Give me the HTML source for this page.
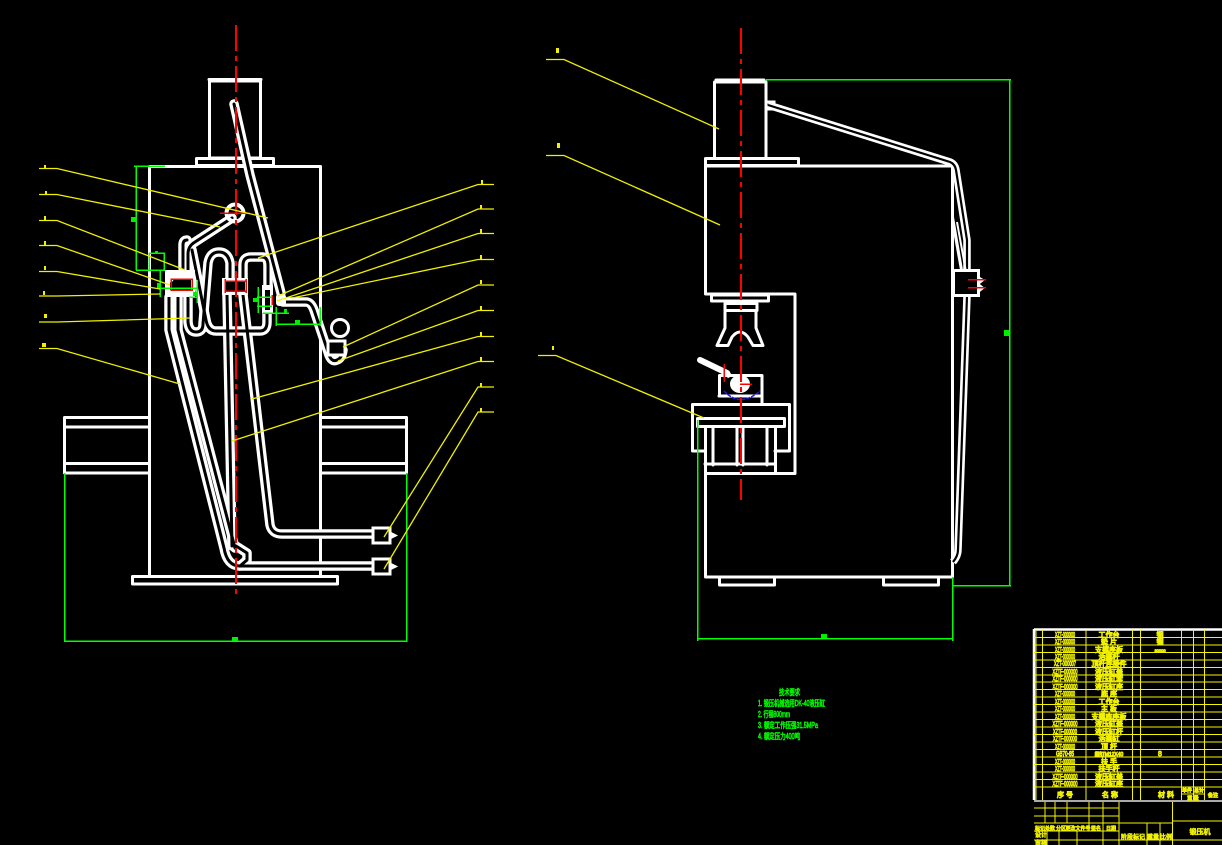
<!DOCTYPE html>
<html><head><meta charset="utf-8"><style>
html,body{margin:0;padding:0;background:#000;width:1222px;height:845px;overflow:hidden}
svg{display:block}
.w{fill:none;stroke:#fff;stroke-width:3;stroke-linejoin:round;stroke-linecap:round}
.to{fill:none;stroke:#fff;stroke-width:9.500;stroke-linejoin:round;stroke-linecap:round}
.ti{fill:none;stroke:#000;stroke-width:3;stroke-linejoin:round;stroke-linecap:round}
.y{fill:none;stroke:#f0f000;stroke-width:1.300}
.g{fill:none;stroke:#00ff00;stroke-width:1.500;shape-rendering:crispEdges}
.gf{fill:#00ee00}
.yf{fill:#f0f000}
.r{fill:none;stroke:#ff0000;stroke-width:1.500;shape-rendering:crispEdges}
.c{fill:none;stroke:#ff0000;stroke-width:2;stroke-dasharray:26 5 5 5;shape-rendering:crispEdges}
.tl{stroke:#f5f500;stroke-width:1.300;fill:none;shape-rendering:crispEdges}
text{font-family:"Liberation Sans","Noto Sans CJK SC",sans-serif}
.t{font-size:7px;fill:#f0f000;stroke:#f0f000;stroke-width:.9;text-anchor:middle}
.s{font-size:6px;fill:#f0f000;stroke:#f0f000;stroke-width:.7;text-anchor:middle}
.n{font-size:8px;fill:#00f000;stroke:#00f000;stroke-width:.7}
</style></head><body>
<svg width="1222" height="845" viewBox="0 0 1222 845" xmlns="http://www.w3.org/2000/svg">
<defs>
<g id="lt">
<path d="M234,104L250,175L281,293"/>
<path d="M232,218L195,242Q188,246 188,254V270"/>
<path d="M183,268V245Q183,240 187,240"/>
<path d="M169,297V330L224,548Q227,566 240,566H373"/>
<path d="M178,297V330L235,548"/>
<path d="M236,546L247,553V560L240,566"/>
<path d="M188,297V322Q189,332 196,332Q203,332 203,324L208,263Q210,252 219,252Q228,252 230,263V278"/>
<path d="M192,250L206,320Q208,331 216,331H260Q267,331 267,322V313"/>
<path d="M243,278V265Q243,257 251,257H262Q268,257 268,266V287"/>
<path d="M227,295L232,546"/>
<path d="M243,295L270,525Q272,534 282,534H373"/>
<path d="M283,302H306Q311,302 314,310L328,352Q331,363 337,360Q342,358 343,350"/>
</g>
<g id="rt"><path d="M768,105L950,162Q955,164 956,170L967,240V296M967,296L958,550Q958,556 953,562"/></g>
</defs>
<!-- LEFT VIEW -->
<g class="w">
<rect x="209.500" y="81" width="51" height="77"/>
<path d="M209,79.500H261"/>
<rect x="196.500" y="158.500" width="77" height="7"/>
<rect x="149.500" y="166.500" width="171" height="410"/>
<rect x="132.500" y="576.500" width="205" height="7.500"/>
<path d="M149,417.500H64.500V473H149M64.500,427H149M64.500,463.500H149"/>
<path d="M321,417.500H406.500V473H321M321,427H406.500M321,463.500H406.500"/>
</g>
<use href="#lt" class="to"/><use href="#lt" class="ti"/>
<g>
<circle cx="235" cy="213" r="8.500" fill="none" stroke="#fff" stroke-width="4"/>
<circle cx="340" cy="328" r="8.500" fill="none" stroke="#fff" stroke-width="3"/>
<rect x="165" y="270" width="30" height="27" fill="#fff"/>
<rect x="170" y="279" width="21" height="11" fill="#000"/>
<circle cx="170" cy="279" r="3.500" fill="#fff"/>
<rect x="222" y="278" width="26" height="17" fill="#fff"/>
<rect x="225" y="282" width="20" height="9" fill="#000"/>
<rect x="262" y="285" width="11" height="28" fill="#fff"/>
<rect x="265" y="290" width="5" height="20" fill="#000"/>
<rect x="276" y="294" width="10" height="12" rx="3" fill="#fff"/>
<rect x="328" y="341" width="17" height="14" fill="#000" stroke="#fff" stroke-width="3"/>
<rect x="373" y="528" width="17" height="15" fill="#000" stroke="#fff" stroke-width="3"/>
<rect x="373" y="559" width="17" height="15" fill="#000" stroke="#fff" stroke-width="3"/>
<path d="M390,532L397,535.500L390,539ZM390,563L397,566.500L390,570Z" fill="#fff" stroke="#fff"/>
</g>
<path class="c" d="M236,25V598"/>
<g class="r">
<path d="M171,279H192V290H171ZM225,281H246M225,291H246M225,279V293M246,279V293M272,295V305M220,213H250"/>
</g>
<!-- left green dims -->
<g class="g">
<path d="M134,166H165M136,166V270M136,270H165M149,253H165M149,253V270M164,253V270"/>
<path d="M160,270V297M158,288H197M189,297H198M197,280V303"/>
<path d="M258,287V313M257,297H272M257,306H272M263,313H289M276,307V326M276,324H320M320,307V326"/>
<path d="M64.500,473V642M406.500,473V642M64.500,641H406.500"/>
</g>
<g class="gf">
<rect x="131" y="217" width="6" height="5"/><rect x="155" y="251" width="3" height="3"/>
<rect x="157" y="283" width="4" height="5"/><rect x="193" y="292" width="4" height="4"/>
<rect x="253" y="298" width="5" height="4"/><rect x="284" y="309" width="3" height="4"/>
<rect x="295" y="320" width="5" height="5"/><rect x="232" y="637" width="6" height="4"/>
</g>
<!-- left leaders -->
<g class="y">
<path d="M39,168.500H57L268,218M39,194.500H57L220,227M39,220.500H57L185,270M39,245.500H57L170,285M39,271.500H57L160,289M39,296H57L160,294M39,322H57L190,318M39,348.500H57L180,384"/>
<path d="M494,184.500H478L258,258M494,209H478L278,296M494,233.500H478L277,301M494,259.500H478L292,298M494,285H478L343,347M494,310.500H478L338,361M494,336.500H478L252,399M494,361.500H478L232,441M494,387H478L384,537M494,412H478L384,569"/>
</g>
<g class="yf">
<rect x="44" y="165" width="2" height="4"/><rect x="45" y="191" width="2" height="4"/><rect x="44" y="216" width="2" height="4"/><rect x="44" y="241" width="2" height="4"/><rect x="44" y="266" width="2" height="4"/><rect x="43" y="291" width="2" height="4"/><rect x="44" y="314" width="3" height="4"/><rect x="42" y="343" width="4" height="4"/>
<rect x="481" y="180" width="2" height="4"/><rect x="480" y="205" width="2" height="4"/><rect x="480" y="229" width="2" height="4"/><rect x="480" y="255" width="2" height="4"/><rect x="480" y="280" width="2" height="4"/><rect x="480" y="306" width="2" height="4"/><rect x="480" y="332" width="2" height="4"/><rect x="480" y="357" width="2" height="4"/><rect x="480" y="383" width="2" height="4"/><rect x="480" y="408" width="2" height="4"/>
<rect x="556" y="48" width="3" height="5"/><rect x="557" y="143" width="3" height="5"/><rect x="552" y="346" width="2" height="4"/>
</g>
<!-- RIGHT VIEW -->
<g class="w">
<path d="M714.500,158V82H766V158M716,80H764"/>
<rect x="705.500" y="158.500" width="93" height="7"/>
<path d="M705.500,166H952.500V577H705.500V473.500H795V294H705.500V166"/>
<rect x="719.500" y="577" width="55" height="8"/>
<rect x="883.500" y="577" width="55" height="8"/>
<rect x="711.500" y="295" width="57" height="6"/>
<path d="M725,303.500H757V310.500H725Z"/>
<path d="M725,312V328L717,345.500H728L732,337Q736,332 740,332Q744,332 748,337L753,345.500H763L756,328V312"/>
<path d="M719.500,396V375.500H762V403"/>
<path d="M719,396H762"/>
<path d="M692.500,451V404.500H789.500V451H775M692.500,451H705"/>
<rect x="697.500" y="418.500" width="87" height="8"/>
<path d="M705.500,427V575M775.500,427V473M713,427V465M737,427V465M743,427V465M767,427V465M705,464H775"/>
</g>
<path d="M700,360L727,373" fill="none" stroke="#fff" stroke-width="6" stroke-linecap="round"/>
<path d="M727,372L730,377" fill="none" stroke="#fff" stroke-width="5"/>
<ellipse cx="740" cy="384" rx="10" ry="9" fill="#fff"/>
<path d="M724,391Q740,408 760,391" fill="none" stroke="#1a1aee" stroke-width="1.500" stroke-dasharray="4 1"/>
<rect x="766" y="102" width="8" height="7" fill="none" stroke="#fff" stroke-width="3"/>
<use href="#rt" style="fill:none;stroke:#fff;stroke-width:7.500;stroke-linejoin:round"/>
<use href="#rt" style="fill:none;stroke:#000;stroke-width:2.200;stroke-linejoin:round"/>
<path fill="none" stroke="#fff" stroke-width="2" d="M953,217L962,270M957,222L966,272M953,225L961,270"/>
<rect x="953.500" y="270.500" width="25" height="25" fill="#000" stroke="#fff" stroke-width="3"/>
<path d="M979,277L984,280L979,284L984,288L979,292Z" fill="#fff" stroke="#fff"/>
<path class="r" d="M968,279.500H986M968,287.500H986M724,364V382M740,384H752"/>
<path class="c" d="M741,28V500"/>
<g class="g">
<path d="M766,79.500H1011M952,585.500H1011M1009.500,79V586M952.500,577V641M697.500,420V641M697,638.500H953"/>
</g>
<g class="gf"><rect x="1004" y="330" width="5" height="6"/><rect x="821" y="634" width="6" height="4"/></g>
<g class="y">
<path d="M546,59.500H564L719,129M546,155.500H564L720,225M538,355.500H556L704,418"/>
</g>
<!-- notes -->
<text class="n" x="779" y="695" textLength="21" lengthAdjust="spacingAndGlyphs">技术要求</text>
<text class="n" x="758" y="706" textLength="67" lengthAdjust="spacingAndGlyphs">1. 锻压机械选用DK-40液压缸</text>
<text class="n" x="758" y="717" textLength="32" lengthAdjust="spacingAndGlyphs">2. 行程800mm</text>
<text class="n" x="758" y="728" textLength="60" lengthAdjust="spacingAndGlyphs">3. 额定工作压强31.5MPa</text>
<text class="n" x="758" y="739" textLength="42" lengthAdjust="spacingAndGlyphs">4. 额定压力400吨</text>
<!-- parts table -->
<path d="M1034,629.500H1222M1034,629V800" fill="none" stroke="#fff" stroke-width="2.500"/>
<path class="tl" d="M1034,637.500H1222M1034,645H1222M1034,652.500H1222M1034,660H1222M1034,667.500H1222M1034,675H1222M1034,682H1222M1034,689.500H1222M1034,697H1222M1034,704.500H1222M1034,712H1222M1034,719.500H1222M1034,727H1222M1034,734.500H1222M1034,742H1222M1034,749.500H1222M1034,757H1222M1034,764.500H1222M1034,772H1222M1034,779.500H1222M1034,787H1222"/>
<path class="tl" d="M1036,630V800M1042.500,630V800M1086,630V800M1132.500,630V800M1140.500,630V800M1181.500,630V800M1193.500,630V800M1204.500,630V800M1181,794H1204"/>
<path d="M1034,801H1222" stroke="#aaa" stroke-width="2"/>
<g class="t">
<text x="1065" y="637" textLength="20" lengthAdjust="spacingAndGlyphs">XZT-000000</text><text x="1109" y="637">工作台</text><text x="1160" y="637">钢</text>
<text x="1065" y="644" textLength="20" lengthAdjust="spacingAndGlyphs">XZT-000000</text><text x="1109" y="644">垫 片</text><text x="1160" y="644">钢</text>
<text x="1065" y="652" textLength="20" lengthAdjust="spacingAndGlyphs">XZT-000000</text><text x="1109" y="652">支撑座板</text><text x="1160" y="652" style="font-size:4px">20000</text>
<text x="1065" y="659" textLength="20" lengthAdjust="spacingAndGlyphs">XZT-000000</text><text x="1109" y="659">活塞杆</text>
<text x="1065" y="666" textLength="22" lengthAdjust="spacingAndGlyphs">XZT-000007</text><text x="1109" y="666">顶杆连接件</text>
<text x="1065" y="674" textLength="25" lengthAdjust="spacingAndGlyphs">XZTF-000000</text><text x="1109" y="674">液压缸盖</text>
<text x="1065" y="681" textLength="25" lengthAdjust="spacingAndGlyphs">XZTF-000000</text><text x="1109" y="681">液压缸套</text>
<text x="1065" y="689" textLength="25" lengthAdjust="spacingAndGlyphs">XZTF-000000</text><text x="1109" y="689">液压缸座</text>
<text x="1065" y="696" textLength="20" lengthAdjust="spacingAndGlyphs">XZT-000000</text><text x="1109" y="696">底 座</text>
<text x="1065" y="704" textLength="20" lengthAdjust="spacingAndGlyphs">XZT-000000</text><text x="1109" y="704">工作台</text>
<text x="1065" y="711" textLength="20" lengthAdjust="spacingAndGlyphs">XZT-000000</text><text x="1109" y="711">主 板</text>
<text x="1065" y="719" textLength="20" lengthAdjust="spacingAndGlyphs">XZT-000000</text><text x="1109" y="719">支撑底座板</text>
<text x="1065" y="726" textLength="25" lengthAdjust="spacingAndGlyphs">XZTF-000000</text><text x="1109" y="726">液压缸盖</text>
<text x="1065" y="734" textLength="24" lengthAdjust="spacingAndGlyphs">XZTF-000000</text><text x="1109" y="734">液压缸杆</text>
<text x="1065" y="741" textLength="24" lengthAdjust="spacingAndGlyphs">XZTF-000000</text><text x="1109" y="741">活塞缸</text>
<text x="1065" y="749" textLength="20" lengthAdjust="spacingAndGlyphs">XZT-000000</text><text x="1109" y="749">顶 杆</text>
<text x="1065" y="756" textLength="18" lengthAdjust="spacingAndGlyphs">GB70-85</text><text x="1109" y="756" style="font-size:5px">螺钉M12X40</text><text x="1160" y="756">8</text>
<text x="1065" y="764" textLength="20" lengthAdjust="spacingAndGlyphs">XZT-000000</text><text x="1109" y="764">扶 手</text>
<text x="1065" y="771" textLength="20" lengthAdjust="spacingAndGlyphs">XZT-000000</text><text x="1109" y="771">扶手杆</text>
<text x="1065" y="779" textLength="25" lengthAdjust="spacingAndGlyphs">XZTF-000000</text><text x="1109" y="779">液压缸盖</text>
<text x="1065" y="786" textLength="25" lengthAdjust="spacingAndGlyphs">XZTF-000000</text><text x="1109" y="786">液压缸座</text>
<text x="1065" y="797">序 号</text><text x="1110" y="797">名 称</text><text x="1166" y="797">材 料</text><text x="1213" y="797" style="font-size:5px">备注</text>
<text x="1187" y="792" style="font-size:5px">单件</text><text x="1199" y="792" style="font-size:5px">总计</text><text x="1193" y="800" style="font-size:5px">重 量</text>
</g>
<!-- title block -->
<path class="tl" d="M1034,808H1119M1034,816H1119M1034,823H1173M1034,831H1119M1034,840H1222M1173,821H1222M1119,802V845M1172.500,802V845M1045,802V823M1055,802V823M1067,802V823M1089,802V831M1103,802V845M1047,831V845M1059,831V845M1077,831V845M1147,823V845M1160,823V845"/>
<g class="s">
<text x="1040" y="830" style="font-size:5px">标记</text><text x="1050" y="830" style="font-size:5px">处数</text><text x="1061" y="830" style="font-size:5px">分区</text><text x="1078" y="830" style="font-size:5px">更改文件号</text><text x="1096" y="830" style="font-size:5px">签名</text><text x="1111" y="830" style="font-size:5px">日期</text>
<text x="1041" y="837">设计</text><text x="1041" y="845">审核</text><text x="1133" y="839">阶段标记</text><text x="1153" y="839">重量</text><text x="1166" y="839">比例</text>
<text x="1200" y="834" style="font-size:7px">锻压机</text>
</g>
</svg>
</body></html>
